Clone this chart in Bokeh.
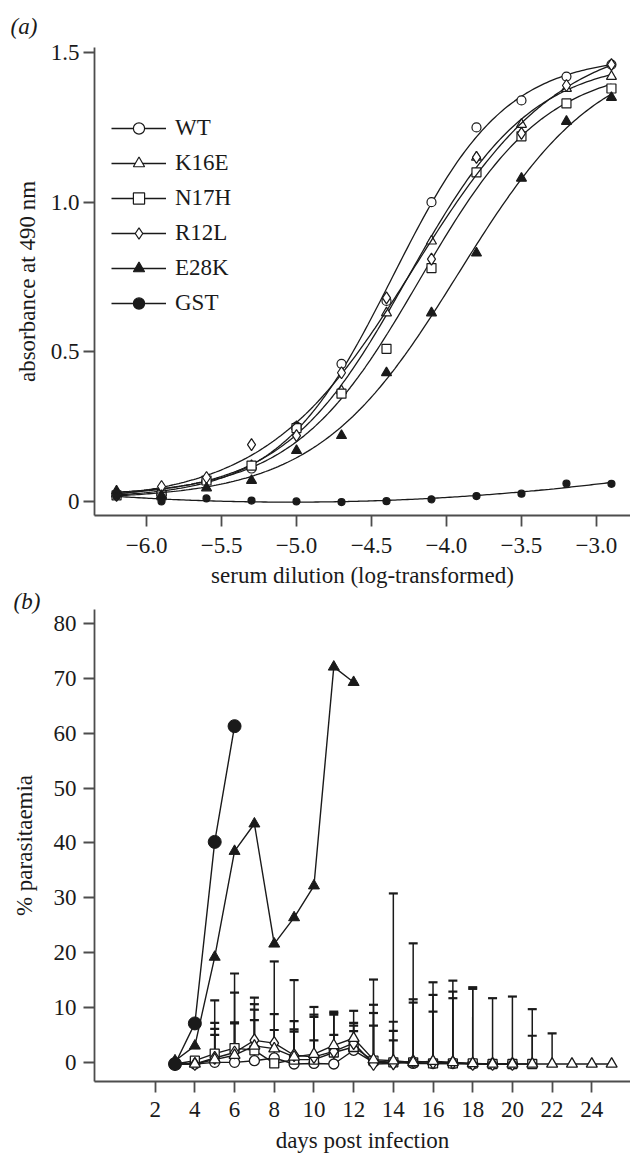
import numpy as np
from bokeh.plotting import figure
from bokeh.models import (FixedTicker, Range1d, Legend, LegendItem, Title,
                          ColumnDataSource, Whisker, TeeHead)
from bokeh.layouts import column
from bokeh.embed import file_html
from bokeh.resources import INLINE

FONT = "Liberation Serif"
INK = "#1a1a1a"
AXIS = "#4d4d4d"

# ---------------- Panel (a): ELISA absorbance ----------------
dilution = [-6.2, -5.9, -5.6, -5.3, -5.0, -4.7, -4.4, -4.1, -3.8, -3.5, -3.2, -2.9]
a_wt = [0.02, 0.03, 0.07, 0.11, 0.25, 0.46, 0.67, 1.00, 1.25, 1.34, 1.42, 1.46]
a_k16e = [0.025, 0.03, 0.075, 0.12, 0.25, 0.37, 0.63, 0.87, 1.15, 1.26, 1.38, 1.42]
a_n17h = [0.02, 0.02, 0.07, 0.12, 0.245, 0.36, 0.51, 0.78, 1.10, 1.22, 1.33, 1.38]
a_r12l = [0.02, 0.05, 0.08, 0.19, 0.22, 0.43, 0.68, 0.81, 1.15, 1.23, 1.39, 1.46]
a_e28k = [0.035, 0.02, 0.045, 0.07, 0.17, 0.22, 0.43, 0.63, 0.83, 1.08, 1.27, 1.35]
a_gst = [0.017, 0.0, 0.01, 0.003, 0.0, -0.002, 0.001, 0.007, 0.018, 0.026, 0.06, 0.059]

a_xticks = [-6.0, -5.5, -5.0, -4.5, -4.0, -3.5, -3.0]
a_xlabels = ["\u22126.0", "\u22125.5", "\u22125.0", "\u22124.5", "\u22124.0", "\u22123.5", "\u22123.0"]
a_yticks = [0, 0.5, 1.0, 1.5]
a_ylabels = ["0", "0.5", "1.0", "1.5"]

# ---------------- Panel (b): parasitaemia ----------------
b_days_gst = [3, 4, 5, 6]
b_gst = [-0.3, 7.1, 40.2, 61.3]

b_days_e28k = [3, 4, 5, 6, 7, 8, 9, 10, 11, 12]
b_e28k = [0.3, 3.0, 19.2, 38.5, 43.5, 21.6, 26.4, 32.2, 72.1, 69.3]

b_days_wt = list(range(3, 21))
b_wt = [-0.3, -0.3, 0.0, 0.0, 0.3, 0.8, -0.3, -0.2, -0.3, 2.2, 0.0, 0.0, -0.2, -0.2, -0.2, -0.3, -0.3, -0.3]
b_wt_err = [0, 0, 5.0, 7.1, 7.4, 5.1, 5.9, 4.2, 5.3, 3.5, 6.7, 4.0, 0, 0, 0, 0, 0, 0]

b_days_k16e = list(range(3, 26))
b_k16e = [-0.3, -0.3, 0.5, 1.3, 3.0, 2.5, 1.0, 1.5, 3.1, 4.4, 0.5, 0.3, 0.0, 0.2, 0.0, -0.2,
          -0.3, -0.3, -0.3, -0.3, -0.3, -0.3, -0.3]
b_k16e_err = [0, 0, 5.6, 6.0, 7.6, 6.3, 6.5, 8.6, 6.15, 5.0, 14.6, 7.1, 21.7, 12.1, 14.9, 13.6,
              0, 0, 10.0, 5.6, 0, 0, 0]

b_days_n17h = list(range(3, 22))
b_n17h = [-0.3, 0.3, 1.6, 2.6, 2.2, -0.2, 0.5, 0.5, 1.8, 2.8, 0.3, 0.0, 0.0, -0.2, -0.2, -0.2,
          -0.3, -0.3, -0.3]
b_n17h_err = [0, 0, 9.7, 13.6, 7.4, 0, 5.5, 7.8, 6.9, 3.9, 10.2, 30.8, 11.5, 14.8, 13.1, 13.9,
              12.0, 12.3, 5.15]

b_days_r12l = list(range(3, 21))
b_r12l = [-0.3, -0.3, 0.8, 1.8, 4.0, 3.5, 1.3, 1.0, 2.0, 3.5, -0.3, -0.2, 0.2, 0.0, 0.0, -0.3, -0.3, -0.3]
b_r12l_err = [0, 0, 6.4, 10.9, 7.8, 14.9, 13.7, 7.7, 7.0, 3.7, 9.3, 5.95, 10.7, 9.25, 11.7, 0, 0, 0]

b_xticks = [2, 4, 6, 8, 10, 12, 14, 16, 18, 20, 22, 24]
b_yticks = [0, 10, 20, 30, 40, 50, 60, 70, 80]


def style(p, tick_out, xstand, ystand, xlab_stand, ylab_stand):
    p.outline_line_color = None
    p.xgrid.visible = False
    p.ygrid.visible = False
    p.background_fill_color = "white"
    p.border_fill_color = "white"
    for ax in (p.xaxis[0], p.yaxis[0]):
        ax.axis_line_color = AXIS
        ax.axis_line_width = 1.8
        ax.major_tick_line_color = AXIS
        ax.major_tick_line_width = 1.8
        ax.major_tick_out = tick_out
        ax.major_tick_in = 0
        ax.minor_tick_line_color = None
        ax.major_label_text_font = FONT
        ax.major_label_text_font_size = "23px"
        ax.major_label_text_color = INK
        ax.axis_label_text_font = FONT
        ax.axis_label_text_font_size = "23px"
        ax.axis_label_text_font_style = "normal"
        ax.axis_label_text_color = INK
    p.xaxis[0].major_label_standoff = xstand
    p.yaxis[0].major_label_standoff = ystand
    p.xaxis[0].axis_label_standoff = xlab_stand
    p.yaxis[0].axis_label_standoff = ylab_stand


def panel_title(text, offset, standoff):
    return Title(text=text, align="left", offset=offset, standoff=standoff,
                 text_font=FONT, text_font_size="23px", text_font_style="italic",
                 text_color=INK)


def fit_4pl(x, y):
    """Least-squares four-parameter logistic fit (grid over midpoint/slope,
    linear solve for bottom/top)."""
    x = np.asarray(x, float)
    y = np.asarray(y, float)
    cs = np.arange(-5.6, -3.0, 0.01)
    hs = np.arange(0.4, 3.0, 0.01)
    C, H = np.meshgrid(cs, hs, indexing="ij")
    s = 1.0 / (1.0 + 10.0 ** ((C[..., None] - x) * H[..., None]))
    u = 1.0 - s
    a11 = (u * u).sum(-1); a12 = (u * s).sum(-1); a22 = (s * s).sum(-1)
    b1 = (u * y).sum(-1); b2 = (s * y).sum(-1)
    det = a11 * a22 - a12 * a12
    bot = (a22 * b1 - a12 * b2) / det
    top = (a11 * b2 - a12 * b1) / det
    pred = bot[..., None] * u + top[..., None] * s
    sse = ((pred - y) ** 2).sum(-1)
    i, j = np.unravel_index(np.argmin(sse), sse.shape)
    return bot[i, j], top[i, j], cs[i], hs[j]


# ---------- figure (a) ----------
pa = figure(width=630, height=590, x_range=Range1d(-6.347, -2.773),
            y_range=Range1d(-0.047, 1.517), output_backend="svg",
            toolbar_location=None, min_border_left=94, min_border_right=0,
            min_border_top=47, min_border_bottom=74,
            title=panel_title("(a)", -84, 18))
style(pa, tick_out=11, xstand=11, ystand=4, xlab_stand=7, ylab_stand=8)
pa.xaxis[0].ticker = FixedTicker(ticks=a_xticks)
pa.xaxis[0].major_label_overrides = dict(zip(a_xticks, a_xlabels))
pa.yaxis[0].ticker = FixedTicker(ticks=a_yticks)
pa.yaxis[0].major_label_overrides = dict(zip(a_yticks, a_ylabels))
pa.xaxis[0].axis_label = "serum dilution (log-transformed)"
pa.yaxis[0].axis_label = "absorbance at 490 nm"

xs_fit = np.linspace(min(dilution), max(dilution), 200)
series_a = [
    ("WT", a_wt, "circle", 9, "white", "4pl"),
    ("K16E", a_k16e, "triangle", 10, "white", "4pl"),
    ("N17H", a_n17h, "square", 9, "white", "4pl"),
    ("R12L", a_r12l, "diamond", 12, "white", "4pl"),
    ("E28K", a_e28k, "triangle", 10, INK, "4pl"),
    ("GST", a_gst, "circle", 7, INK, "quad"),
]
items = []
for name, vals, marker, size, fill, kind in series_a:
    if kind == "4pl":
        bot, top, c, h = fit_4pl(dilution, vals)
        ys_fit = bot + (top - bot) / (1.0 + 10.0 ** ((c - xs_fit) * h))
    else:
        ys_fit = np.polyval(np.polyfit(dilution, vals, 2), xs_fit)
    lr = pa.line(xs_fit, ys_fit, line_color=INK, line_width=1.3)
    sr = pa.scatter(dilution, vals, marker=marker, size=size, fill_color=fill,
                    line_color=INK, line_width=1.2)
    items.append(LegendItem(label=name, renderers=[lr, sr]))

leg = Legend(items=items, location=(17, 198), glyph_width=55, glyph_height=28,
             label_height=28, spacing=7, label_standoff=9, padding=0, margin=0,
             border_line_color=None, background_fill_alpha=0,
             label_text_font=FONT, label_text_font_size="23px", label_text_color=INK)
pa.add_layout(leg)

# ---------- figure (b) ----------
pb = figure(width=630, height=565, x_range=Range1d(-1.057, 25.95),
            y_range=Range1d(-3.49, 82.57), output_backend="svg",
            toolbar_location=None, min_border_left=91, min_border_right=0,
            min_border_top=0, min_border_bottom=74,
            title=panel_title("(b)", -81, -8))
style(pb, tick_out=11, xstand=9, ystand=7, xlab_stand=8, ylab_stand=14)
pb.xaxis[0].ticker = FixedTicker(ticks=b_xticks)
pb.yaxis[0].ticker = FixedTicker(ticks=b_yticks)
pb.xaxis[0].axis_label = "days post infection"
pb.yaxis[0].axis_label = "% parasitaemia"


def add_err(p, days, mean, err):
    d = np.array(days, dtype=float)
    m = np.array(mean, dtype=float)
    e = np.array(err, dtype=float)
    keep = e > 0
    src = ColumnDataSource(dict(x=d[keep], lo=m[keep], hi=(m + e)[keep]))
    w = Whisker(source=src, base="x", lower="lo", upper="hi", line_color=INK,
                line_width=1.5,
                upper_head=TeeHead(size=9, line_color=INK, line_width=2.2),
                lower_head=None)
    p.add_layout(w)


series_b = [
    (b_days_wt, b_wt, b_wt_err, "circle", 10, "white"),
    (b_days_n17h, b_n17h, b_n17h_err, "square", 9, "white"),
    (b_days_r12l, b_r12l, b_r12l_err, "diamond", 13, "white"),
    (b_days_k16e, b_k16e, b_k16e_err, "triangle", 11, "white"),
]
for days, vals, err, marker, size, fill in series_b:
    add_err(pb, days, vals, err)
for days, vals, err, marker, size, fill in series_b:
    pb.line(days, vals, line_color=INK, line_width=1.4)
    pb.scatter(days, vals, marker=marker, size=size, fill_color=fill,
               line_color=INK, line_width=1.3)

pb.line(b_days_e28k, b_e28k, line_color=INK, line_width=1.4)
pb.scatter(b_days_e28k, b_e28k, marker="triangle", size=11, fill_color=INK, line_color=INK)
pb.line(b_days_gst, b_gst, line_color=INK, line_width=1.4)
pb.scatter(b_days_gst, b_gst, marker="circle", size=13, fill_color=INK, line_color=INK)

layout = column(pa, pb, spacing=0)
open("out.html", "w").write(file_html(layout, INLINE))
